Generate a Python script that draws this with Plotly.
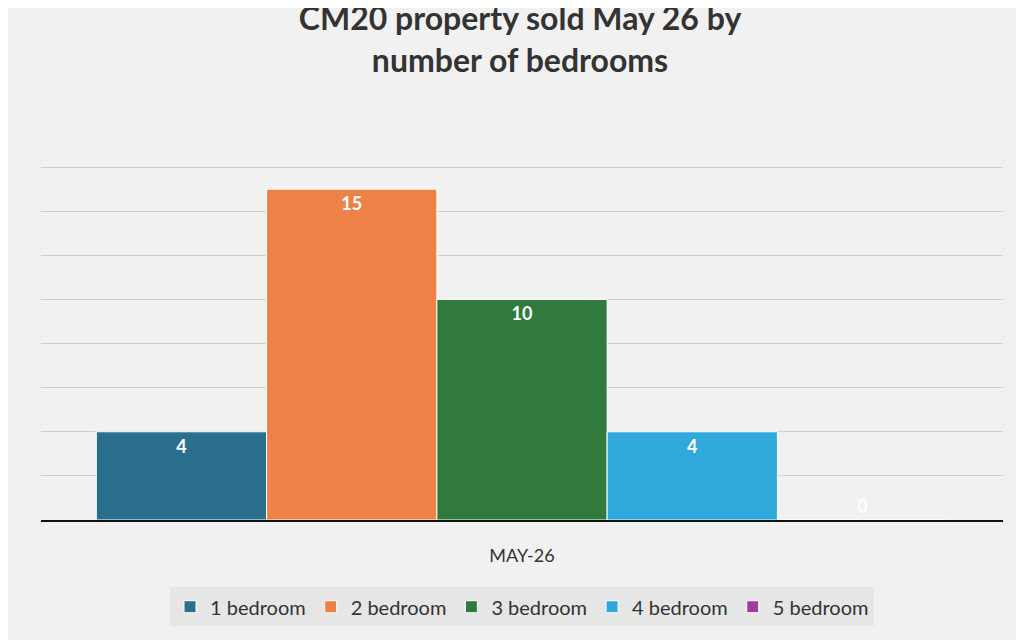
import plotly.graph_objects as go

month = ["MAY-26"]
series = ["1 bedroom", "2 bedroom", "3 bedroom", "4 bedroom", "5 bedroom"]
values = [4, 15, 10, 4, 0]
colors = ["#2b6f8f", "#ee8146", "#2f7a3c", "#2fa8dc", "#a03d9e"]

fig = go.Figure()
for name, v, c in zip(series, values, colors):
    fig.add_trace(go.Bar(
        x=month, y=[v], name=name, marker=dict(color=c, line=dict(color="white", width=1)),
        text=[f"<b>{v}</b>"], textposition="inside" if v else "outside",
        textfont=dict(color="white", size=18, family="Lato"),
        insidetextanchor="end", cliponaxis=False,
    ))

fig.update_layout(
    title=dict(text="<b>CM20 property sold May 26 by<br><span style='line-height:1.6'>number of bedrooms</span></b>",
               x=0.5, y=0.965, xanchor="center", yanchor="top",
               font=dict(size=32, color="#333333", family="Lato")),
    barmode="group", bargap=0.115, bargroupgap=0,
    width=1024, height=640,
    margin=dict(l=33, r=29, t=158, b=128),
    paper_bgcolor="#f1f1f1", plot_bgcolor="#f1f1f1",
    font=dict(family="Lato", color="#333333"),
    uniformtext=dict(mode="show", minsize=18),
    legend=dict(orientation="h", x=0.5, xanchor="center", y=-0.245, yanchor="middle",
                bgcolor="#e6e6e6", font=dict(size=20, family="Lato", color="#333333"),
                traceorder="normal"),
)
fig.update_xaxes(showline=True, linecolor="#111111", linewidth=2,
                 tickfont=dict(size=18), ticks="", ticklabelstandoff=18)
fig.update_yaxes(range=[0, 16.05], tickvals=[2, 4, 6, 8, 10, 12, 14, 16], showticklabels=False,
                 gridcolor="#d0d0d0", zeroline=False)

fig.write_html("out.html")
